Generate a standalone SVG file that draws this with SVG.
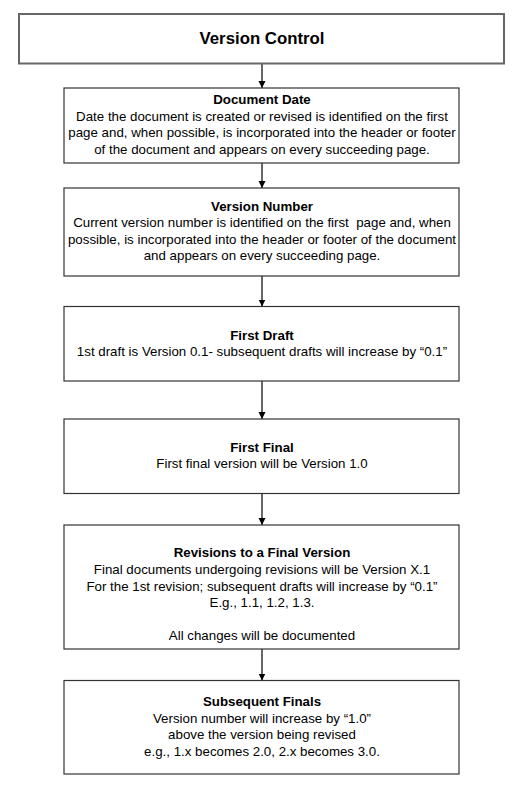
<svg xmlns="http://www.w3.org/2000/svg" width="519" height="791" viewBox="0 0 519 791">
<defs>
<marker id="ah" markerWidth="8" markerHeight="8" refX="7" refY="4" orient="auto" markerUnits="userSpaceOnUse">
<path d="M0,0.5 L7,4 L0,7.5 Z" fill="#000"/>
</marker>
<style>
.box{fill:#fff;stroke:#333;stroke-width:1.2}
.top{fill:#fff;stroke:#666;stroke-width:2}
text{font-family:"Liberation Sans",Arial,sans-serif;font-size:13.3px;fill:#000;text-anchor:middle}
.b{font-weight:bold}
.t{font-weight:bold;font-size:16.8px}
.c{stroke:#000;stroke-width:1.2;fill:none}
</style>
</defs>
<rect width="519" height="791" fill="#fff"/>
<g id="connectors">
<line class="c" x1="262" y1="64" x2="262" y2="88" marker-end="url(#ah)"/>
<line class="c" x1="262" y1="163" x2="262" y2="188" marker-end="url(#ah)"/>
<line class="c" x1="262" y1="276" x2="262" y2="306.5" marker-end="url(#ah)"/>
<line class="c" x1="262" y1="381" x2="262" y2="419" marker-end="url(#ah)"/>
<line class="c" x1="262" y1="493.5" x2="262" y2="525" marker-end="url(#ah)"/>
<line class="c" x1="262" y1="649" x2="262" y2="680.5" marker-end="url(#ah)"/>
</g>
<g id="version-control">
<rect class="top" x="19" y="14" width="485" height="49.5"/>
<text class="t" x="262" y="44">Version Control</text>
</g>
<g id="document-date">
<rect class="box" x="64" y="88" width="395" height="75"/>
<text class="b" x="262" y="104">Document Date</text>
<text x="262" y="120.6">Date the document is created or revised is identified on the first</text>
<text x="262" y="137.2">page and, when possible, is incorporated into the header or footer</text>
<text x="262" y="153.8">of the document and appears on every succeeding page.</text>
</g>
<g id="version-number">
<rect class="box" x="64" y="188" width="395" height="88"/>
<text class="b" x="262" y="210.5">Version Number</text>
<text x="262" y="227.2" xml:space="preserve">Current version number is identified on the first  page and, when</text>
<text x="262" y="243.8">possible, is incorporated into the header or footer of the document</text>
<text x="262" y="260.4">and appears on every succeeding page.</text>
</g>
<g id="first-draft">
<rect class="box" x="64" y="306.5" width="395" height="74.5"/>
<text class="b" x="262" y="339.5">First Draft</text>
<text x="262" y="356.1">1st draft is Version 0.1- subsequent drafts will increase by “0.1”</text>
</g>
<g id="first-final">
<rect class="box" x="64" y="419" width="395" height="74.5"/>
<text class="b" x="262" y="451.8">First Final</text>
<text x="262" y="468.4">First final version will be Version 1.0</text>
</g>
<g id="revisions">
<rect class="box" x="64" y="525" width="395" height="124"/>
<text class="b" x="262" y="557.4">Revisions to a Final Version</text>
<text x="262" y="574">Final documents undergoing revisions will be Version X.1</text>
<text x="262" y="590.6">For the 1st revision; subsequent drafts will increase by “0.1”</text>
<text x="262" y="607.2">E.g., 1.1, 1.2, 1.3.</text>
<text x="262" y="640.4">All changes will be documented</text>
</g>
<g id="subsequent-finals">
<rect class="box" x="64" y="680.5" width="395" height="93.5"/>
<text class="b" x="262" y="706.2">Subsequent Finals</text>
<text x="262" y="722.8">Version number will increase by “1.0”</text>
<text x="262" y="739.4">above the version being revised</text>
<text x="262" y="756">e.g., 1.x becomes 2.0, 2.x becomes 3.0.</text>
</g>
</svg>
